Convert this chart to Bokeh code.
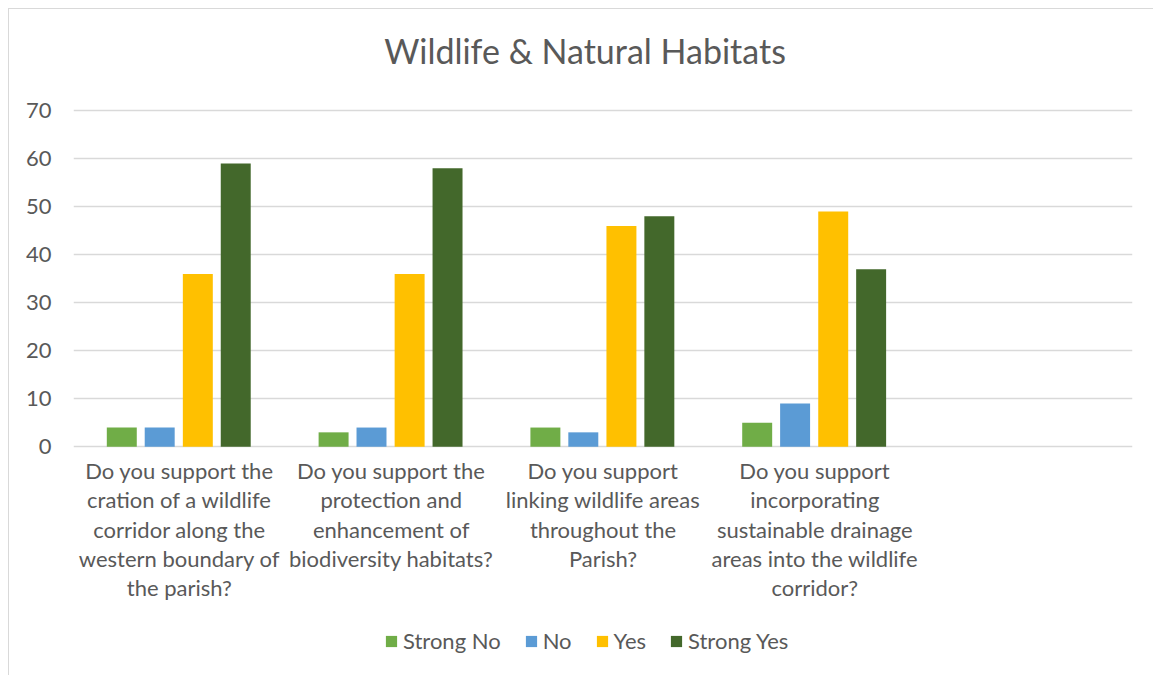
from bokeh.plotting import figure
from bokeh.models import ColumnDataSource, FactorRange, Range1d, Legend, LegendItem
from bokeh.core.properties import value
from bokeh.transform import dodge
from bokeh.embed import file_html
from bokeh.resources import INLINE

# ---- data ----
title_text = "Wildlife & Natural Habitats"
categories = [
    "Do you support the cration of a wildlife corridor along the western boundary of the parish?",
    "Do you support the protection and enhancement of biodiversity habitats?",
    "Do you support linking wildlife areas throughout the Parish?",
    "Do you support incorporating sustainable drainage areas into the wildlife corridor?",
    " ",
]
category_lines = [
    ["Do you support the", "cration of a wildlife", "corridor along the", "western boundary of", "the parish?"],
    ["Do you support the", "protection and", "enhancement of", "biodiversity habitats?"],
    ["Do you support", "linking wildlife areas", "throughout the", "Parish?"],
    ["Do you support", "incorporating", "sustainable drainage", "areas into the wildlife", "corridor?"],
    [],
]
series_names = ["Strong No", "No", "Yes", "Strong Yes"]
strong_no = [4, 3, 4, 5]
no = [4, 4, 3, 9]
yes = [36, 36, 46, 49]
strong_yes = [59, 58, 48, 37]
y_ticks = [0, 10, 20, 30, 40, 50, 60, 70]

colors = ["#70AD47", "#5B9BD5", "#FFC000", "#43682B"]
text_color = "#595959"
grid_color = "#D9D9D9"
FONT = "Lato"

# layout constants (pixels)
PX_PER_UNIT = 332 / 70.0
Y_TOP = 70 + 100 / PX_PER_UNIT        # space above the 70 gridline
Y_BOTTOM = -227 / PX_PER_UNIT         # space below the 0 line

source = ColumnDataSource(dict(
    cat=categories[:4],
    strong_no=strong_no,
    no=no,
    yes=yes,
    strong_yes=strong_yes,
))

p = figure(
    x_range=FactorRange(*categories, range_padding=0, factor_padding=0),
    y_range=Range1d(Y_BOTTOM, Y_TOP),
    width=1145, height=667,
    output_backend="svg", toolbar_location=None,
    min_border_left=64, min_border_right=22, min_border_top=0, min_border_bottom=0,
)

fields = ["strong_no", "no", "yes", "strong_yes"]
offsets = [-0.272, -0.093, 0.087, 0.266]
renderers = []
for f, off, c in zip(fields, offsets, colors):
    r = p.vbar(x=dodge("cat", off, range=p.x_range), top=f, width=0.1415, bottom=0,
               source=source, fill_color=c, line_color=None)
    renderers.append(r)

# y axis
p.yaxis.ticker = y_ticks
p.yaxis.axis_line_color = None
p.yaxis.major_tick_line_color = None
p.yaxis.minor_tick_line_color = None
p.yaxis.major_tick_out = 0
p.yaxis.major_tick_in = 0
p.yaxis.major_label_standoff = 22
p.yaxis.major_label_text_font = FONT
p.yaxis.major_label_text_font_size = "22px"
p.yaxis.major_label_text_color = text_color

p.xaxis.visible = False
p.xgrid.grid_line_color = None
p.ygrid.ticker = y_ticks
p.ygrid.grid_line_color = grid_color
p.ygrid.grid_line_width = 1.3
p.outline_line_color = None
p.background_fill_color = "white"
p.border_fill_color = "white"

# category labels (wrapped) below the axis
lx, ly, lt = [], [], []
for c, lines in zip(categories, category_lines):
    for i, t in enumerate(lines):
        lx.append(c)
        ly.append(-(23.5 + 29 * i) / PX_PER_UNIT)
        lt.append(t)
p.text(x=lx, y=ly, text=lt, text_align="center", text_baseline="middle",
       text_font=value(FONT), text_font_size="22px", text_color=text_color)

# title
p.text(x=[categories[2]], y=[70 + (108 - 49) / PX_PER_UNIT], text=[title_text],
       x_offset=-18, text_align="center", text_baseline="middle",
       text_font=value(FONT), text_font_size="34px", text_color=text_color)

legend = Legend(items=[LegendItem(label=n, renderers=[r]) for n, r in zip(series_names, renderers)],
                orientation="horizontal", location=(311, 22),
                label_text_font=FONT, label_text_font_size="22px", label_text_color=text_color,
                glyph_width=14, glyph_height=14, label_standoff=5, spacing=23,
                border_line_color=None, background_fill_alpha=0, margin=0, padding=0)
p.add_layout(legend, "center")

p.styles = {"margin-left": "8px", "margin-top": "8px",
            "border-top": "1px solid #D9D9D9", "border-left": "1px solid #D9D9D9"}

open("out.html", "w").write(file_html(p, INLINE))
